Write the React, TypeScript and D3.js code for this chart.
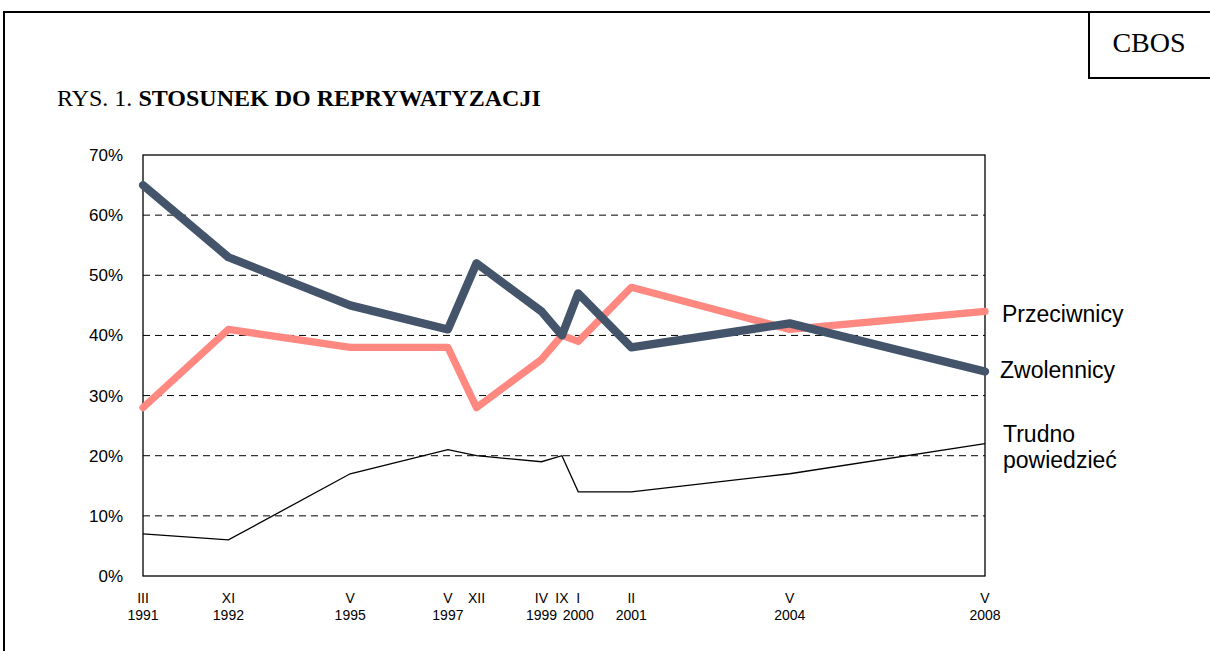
import React, { useRef, useEffect } from 'react';
import * as d3 from 'd3';

// survey dates (year, month index, day)
const dates = [
  [1991, 1, 1], [1992, 10, 1], [1995, 4, 1], [1997, 4, 1], [1997, 11, 1], [1999, 3, 1],
  [1999, 8, 1], [2000, 0, 1], [2001, 1, 1], [2004, 4, 1], [2008, 4, 1],
];
const monthLabels = ['III', 'XI', 'V', 'V', 'XII', 'IV', 'IX', 'I', 'II', 'V', 'V'];
const yearLabels = ['1991', '1992', '1995', '1997', '', '1999', '', '2000', '2001', '2004', '2008'];

const zwolennicy = [65, 53, 45, 41, 52, 44, 40, 47, 38, 42, 34];
const przeciwnicy = [28, 41, 38, 38, 28, 36, 40, 39, 48, 41, 44];
const trudno = [7, 6, 17, 21, 20, 19, 20, 14, 14, 17, 22];

const yTicks = [0, 10, 20, 30, 40, 50, 60, 70];

const App = () => {
  const svgRef = useRef();

  useEffect(() => {
    const svg = d3.select(svgRef.current);
    svg.selectAll('*').remove();

    const left = 143, right = 985, top = 155, bottom = 576;
    const parsed = dates.map(([y, m, d]) => new Date(y, m, d));

    const x = d3.scaleTime()
      .domain([parsed[0], parsed[parsed.length - 1]])
      .range([left, right]);
    const y = d3.scaleLinear().domain([0, 70]).range([bottom, top]);

    // outer frame + CBOS box
    svg.append('path')
      .attr('d', 'M4,651 L4,12 L1210,12')
      .attr('fill', 'none').attr('stroke', '#000').attr('stroke-width', 2);
    svg.append('path')
      .attr('d', 'M1089,12 L1089,78 L1210,78')
      .attr('fill', 'none').attr('stroke', '#000').attr('stroke-width', 2);
    svg.append('text')
      .attr('x', 1149).attr('y', 52)
      .attr('text-anchor', 'middle')
      .style('font-family', '"Liberation Serif", serif')
      .style('font-size', '28px')
      .text('CBOS');

    const title = svg.append('text')
      .attr('x', 57).attr('y', 106)
      .style('font-family', '"Liberation Serif", serif')
      .style('font-size', '24px');
    title.append('tspan').text('RYS. 1. ');
    title.append('tspan').style('font-weight', 'bold').text('STOSUNEK DO REPRYWATYZACJI');

    // gridlines
    svg.append('g')
      .selectAll('line')
      .data(yTicks.filter((t) => t > 0 && t < 70))
      .enter()
      .append('line')
      .attr('x1', left).attr('x2', right)
      .attr('y1', (d) => y(d)).attr('y2', (d) => y(d))
      .attr('stroke', '#000')
      .attr('stroke-width', 1)
      .attr('stroke-dasharray', '7,5');

    // plot frame
    svg.append('rect')
      .attr('x', left).attr('y', top)
      .attr('width', right - left).attr('height', bottom - top)
      .attr('fill', 'none').attr('stroke', '#000').attr('stroke-width', 1.3);

    // y labels
    svg.append('g')
      .selectAll('text')
      .data(yTicks)
      .enter()
      .append('text')
      .attr('x', 123)
      .attr('y', (d) => y(d))
      .attr('dy', '0.35em')
      .attr('text-anchor', 'end')
      .style('font-family', '"Liberation Sans", Arial, sans-serif')
      .style('font-size', '17px')
      .text((d) => d + '%');

    // x labels
    const xl = svg.append('g')
      .style('font-family', '"Liberation Sans", Arial, sans-serif')
      .style('font-size', '14px')
      .attr('text-anchor', 'middle');
    parsed.forEach((d, i) => {
      xl.append('text').attr('x', x(d)).attr('y', 603).text(monthLabels[i]);
      if (yearLabels[i]) xl.append('text').attr('x', x(d)).attr('y', 620).text(yearLabels[i]);
    });

    const line = d3.line()
      .x((d, i) => x(parsed[i]))
      .y((d) => y(d));

    svg.append('path')
      .attr('d', line(trudno))
      .attr('fill', 'none').attr('stroke', '#000').attr('stroke-width', 1.3);
    svg.append('path')
      .attr('d', line(przeciwnicy))
      .attr('fill', 'none').attr('stroke', '#FF8880').attr('stroke-width', 7.3)
      .attr('stroke-linejoin', 'round').attr('stroke-linecap', 'round');
    svg.append('path')
      .attr('d', line(zwolennicy))
      .attr('fill', 'none').attr('stroke', '#44546A').attr('stroke-width', 8.3)
      .attr('stroke-linejoin', 'round').attr('stroke-linecap', 'round');

    // series labels
    const lab = svg.append('g')
      .style('font-family', '"Liberation Sans", Arial, sans-serif')
      .style('font-size', '23px');
    lab.append('text').attr('x', 1002).attr('y', 322).text('Przeciwnicy');
    lab.append('text').attr('x', 1000).attr('y', 378).text('Zwolennicy');
    lab.append('text').attr('x', 1003).attr('y', 442).text('Trudno');
    lab.append('text').attr('x', 1003).attr('y', 468).text('powiedzieć');
  }, []);

  return (
    <svg
      ref={svgRef}
      width={1210}
      height={651}
      style={{ position: 'absolute', left: 0, top: 0, background: '#fff' }}
    ></svg>
  );
};

export default App;
